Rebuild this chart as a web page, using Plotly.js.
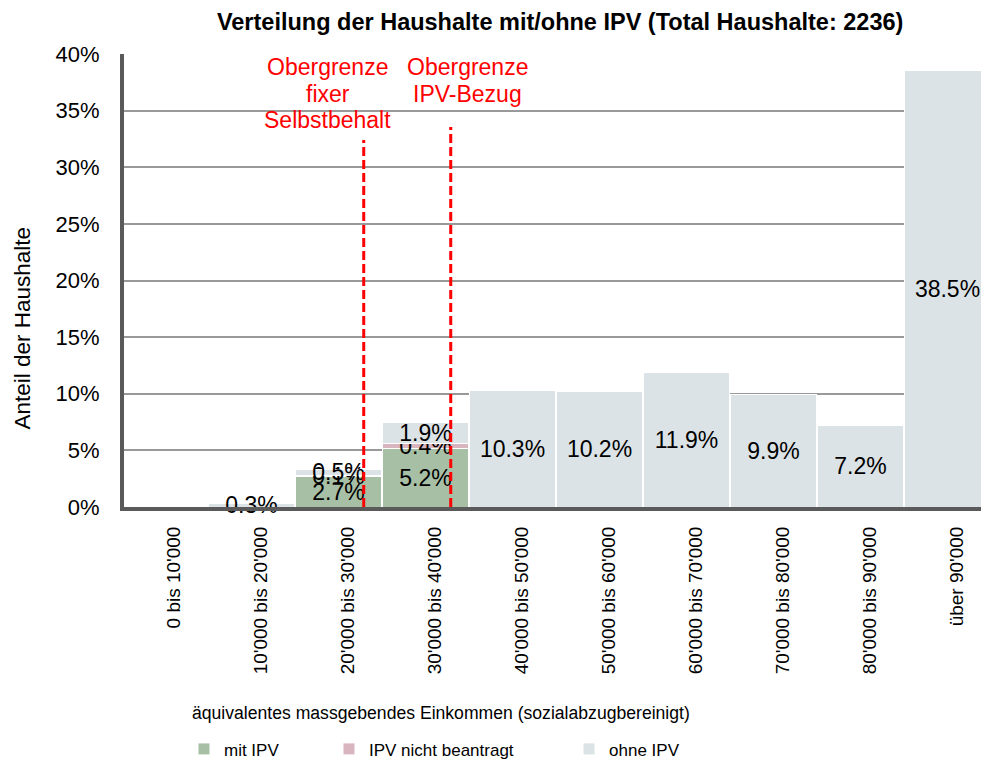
<!DOCTYPE html>
<html>
<head>
<meta charset="utf-8">
<script src="https://cdn.plot.ly/plotly-3.0.1.min.js"></script>
<style>
html,body{margin:0;padding:0;background:#fff;}
#chart{width:981px;height:762px;}
</style>
</head>
<body>
<div id="chart"></div>
<script>
// ---- data ----
const categories = ["0 bis 10'000", "10'000 bis 20'000", "20'000 bis 30'000", "30'000 bis 40'000", "40'000 bis 50'000", "50'000 bis 60'000", "60'000 bis 70'000", "70'000 bis 80'000", "80'000 bis 90'000", "über 90'000"];
const mitIPV = [0, 0, 2.7, 5.2, 0, 0, 0, 0, 0, 0];
const nichtBeantragt = [0, 0, 0.1, 0.4, 0, 0, 0, 0, 0, 0];
const ohneIPV = [0, 0.3, 0.5, 1.9, 10.3, 10.2, 11.9, 9.9, 7.2, 38.5];
const seriesNames = ["mit IPV", "IPV nicht beantragt", "ohne IPV"];
const yTickVals = [0, 5, 10, 15, 20, 25, 30, 35, 40];
const limitLabels = [["Obergrenze", "fixer", "Selbstbehalt"], ["Obergrenze", "IPV-Bezug"]];
const limitPositions = [2.29, 3.29];
const limitTops = [32.4, 33.55];

// ---- styling ----
const FONT = "Liberation Sans, Arial, Helvetica, sans-serif";
const colors = ["#A7BFA5", "#D9B5BF", "#DCE3E6"];

function labels(arr) { return arr.map(v => v > 0 ? v.toFixed(1) + "%" : ""); }

function barTrace(y, name, color, legendId) {
  return {
    type: "bar", x: categories, y: y, name: name, legend: legendId,
    marker: { color: color, line: { color: "#ffffff", width: 1 } },
    text: labels(y),
    textposition: "inside",
    insidetextanchor: "middle",
    textangle: 0,
    constraintext: "none",
    textfont: { family: FONT, size: 23, color: "#000000" },
    cliponaxis: false,
    hoverinfo: "skip"
  };
}

const data = [
  barTrace(mitIPV, seriesNames[0], colors[0], "legend"),
  barTrace(nichtBeantragt, seriesNames[1], colors[1], "legend2"),
  barTrace(ohneIPV, seriesNames[2], colors[2], "legend3")
];

const annotations = [];
const redLineY = [38.85, 36.47, 34.17];
const redX = [1.874, 3.477];
limitLabels.forEach((lines, k) => {
  lines.forEach((t, j) => {
    annotations.push({
      xref: "x", yref: "y", x: redX[k], y: redLineY[j], text: t, showarrow: false,
      xanchor: "center", yanchor: "middle",
      font: { family: FONT, size: 23, color: "#FF0000" }
    });
  });
});
annotations.push({
  xref: "paper", yref: "paper", x: 0.370, y: -0.4555, showarrow: false,
  xanchor: "center", yanchor: "middle",
  text: "äquivalentes massgebendes Einkommen (sozialabzugbereinigt)",
  font: { family: FONT, size: 17.6, color: "#000000" }
});
annotations.push({
  xref: "paper", yref: "paper", x: -0.1184, y: 0.395, showarrow: false,
  xanchor: "center", yanchor: "middle", textangle: -90,
  text: "Anteil der Haushalte",
  font: { family: FONT, size: 22.5, color: "#000000" }
});

const shapes = limitPositions.map((xp, i) => ({
  type: "line", xref: "x", yref: "y", x0: xp, x1: xp, y0: 0, y1: limitTops[i],
  line: { color: "#FF0000", width: 3, dash: "9px,4px" }, layer: "above"
}));

function legendAt(xp) {
  return {
    orientation: "h", x: xp, xanchor: "left", y: -0.535, yanchor: "middle",
    font: { family: FONT, size: 17, color: "#000000" },
    bgcolor: "rgba(0,0,0,0)", borderwidth: 0
  };
}

const layout = {
  width: 981, height: 762,
  margin: { l: 124, r: 0, t: 54, b: 255, pad: 0, autoexpand: false },
  paper_bgcolor: "#ffffff", plot_bgcolor: "#ffffff",
  barmode: "stack", bargap: 0.02,
  font: { family: FONT, color: "#000000" },
  showlegend: true,
  title: {
    text: "<b>Verteilung der Haushalte mit/ohne IPV (Total Haushalte: 2236)</b>",
    font: { family: FONT, size: 23.5, color: "#000000" },
    xref: "container", x: 0.571, xanchor: "center",
    yref: "container", y: 0.971, yanchor: "middle"
  },
  xaxis: {
    type: "category", range: [-0.4655, 9.385],
    showgrid: false, zeroline: false,
    showline: true, linecolor: "#5a5a5a", linewidth: 4,
    ticks: "", tickangle: -90,
    tickfont: { family: FONT, size: 19, color: "#000000" },
    ticklabelstandoff: 8, ticklabelshift: 9
  },
  yaxis: {
    range: [0, 40], tickmode: "array", tickvals: yTickVals,
    ticktext: yTickVals.map(v => v + "%"),
    showgrid: true, gridcolor: "#999999", gridwidth: 2, zeroline: false,
    showline: true, linecolor: "#5a5a5a", linewidth: 4,
    ticks: "", tickfont: { family: FONT, size: 22, color: "#000000" },
    ticklabelstandoff: 16
  },
  legend: legendAt(0.070),
  legend2: legendAt(0.2392),
  legend3: legendAt(0.5193),
  annotations: annotations,
  shapes: shapes
};

Plotly.newPlot("chart", data, layout, { staticPlot: true, displayModeBar: false });
</script>
</body>
</html>
